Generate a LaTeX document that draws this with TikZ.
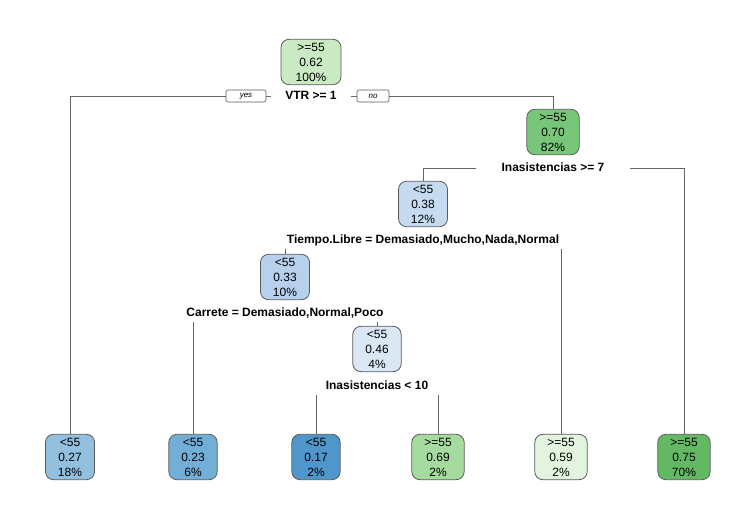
\documentclass[tikz,border=0pt]{standalone}
\usepackage{fontspec}
\setmainfont{Liberation Sans}
\usetikzlibrary{backgrounds}

\definecolor{gA}{HTML}{C9EAC2}
\definecolor{gB}{HTML}{78C679}
\definecolor{gC}{HTML}{63B863}
\definecolor{gD}{HTML}{A6DBA0}
\definecolor{gE}{HTML}{E3F4DE}
\definecolor{bA}{HTML}{C6DBEF}
\definecolor{bB}{HTML}{B7D1EC}
\definecolor{bC}{HTML}{DAE8F5}
\definecolor{bD}{HTML}{93C0DF}
\definecolor{bE}{HTML}{72AED6}
\definecolor{bF}{HTML}{4F97CB}

\begin{document}
\begin{tikzpicture}[x=1pt,y=-1pt,
    box/.style={draw=black!65,line width=0.8pt,rounded corners=8pt,align=center,
      inner xsep=12.5pt,inner ysep=3.5pt,font=\fontsize{12}{15}\selectfont},
    split/.style={fill=white,inner xsep=14pt,inner ysep=3pt,text height=8.8pt,text depth=2.5pt,
      font=\bfseries\fontsize{12}{14}\selectfont},
    yesno/.style={draw=black!65,line width=0.6pt,rounded corners=2pt,inner sep=1pt,
      minimum height=12pt,font=\itshape\fontsize{8}{9}\selectfont},
    branch/.style={draw=black!60,line width=0.8pt}]
  \useasboundingbox (0,0) rectangle (756,516);
  % inner nodes
  \node[box,fill=gA,minimum width=60pt] (root) at (311,62) {>=55\\0.62\\100\%};
  \node[box,fill=gB] (n2) at (553,132) {>=55\\0.70\\82\%};
  \node[box,fill=bA] (n3) at (423,204) {<55\\0.38\\12\%};
  \node[box,fill=bB] (n4) at (285,277) {<55\\0.33\\10\%};
  \node[box,fill=bC] (n5) at (377,349) {<55\\0.46\\4\%};
  % leaves
  \node[box,fill=bD] (l1) at (70,457) {<55\\0.27\\18\%};
  \node[box,fill=bE] (l2) at (193,457) {<55\\0.23\\6\%};
  \node[box,fill=bF] (l3) at (316,457) {<55\\0.17\\2\%};
  \node[box,fill=gD] (l4) at (438,457) {>=55\\0.69\\2\%};
  \node[box,fill=gE] (l5) at (561,457) {>=55\\0.59\\2\%};
  \node[box,fill=gC] (l6) at (684,457) {>=55\\0.75\\70\%};
  % split labels
  \node[split] (s1) at (311,96) {VTR >= 1};
  \node[split,inner xsep=26pt] (s2) at (553,168) {Inasistencias >= 7};
  \node[split] (s3) at (423,240) {Tiempo.Libre = Demasiado,Mucho,Nada,Normal};
  \node[split] (s4) at (285,313) {Carrete = Demasiado,Normal,Poco};
  \node[split] (s5) at (377,386) {Inasistencias < 10};
  \node[yesno,minimum width=40pt] (yes) at (246,96) {yes};
  \node[yesno,minimum width=32pt] (no) at (373,96) {no};
  % branches
  \begin{scope}[on background layer]
    \draw[branch] (l1.north) |- (yes.west);
    \draw[branch] (yes.east) -- (no.west);
    \draw[branch] (no.east) -| (n2.north);
    \draw[branch] (s2.center) -| (n3.north);
    \draw[branch] (s2.center) -| (l6.north);
    \draw[branch] (s3.center) -| (n4.north);
    \draw[branch] (s3.center) -| (l5.north);
    \draw[branch] (s4.center) -| (l2.north);
    \draw[branch] (s4.center) -| (n5.north);
    \draw[branch] (s5.center) -| (l3.north);
    \draw[branch] (s5.center) -| (l4.north);
  \end{scope}
\end{tikzpicture}
\end{document}
